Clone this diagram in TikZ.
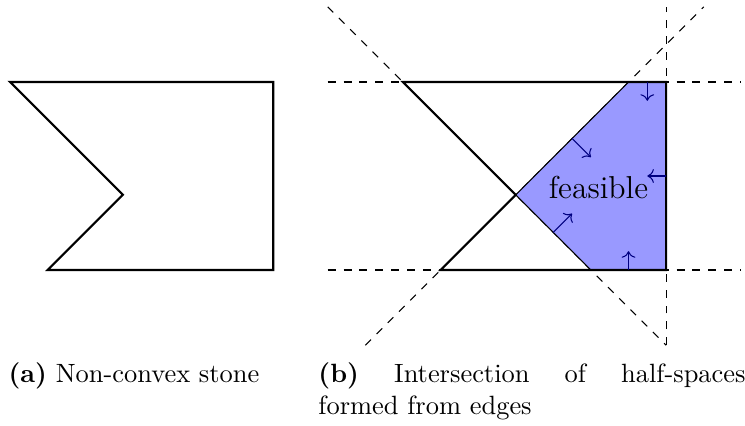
\documentclass[tikz,border=0pt]{standalone}
\usepackage{tikz}
\usetikzlibrary{arrows.meta, positioning, calc}

\begin{document}
\begin{tikzpicture}[
        x=0.5cm, y=0.5cm,
        stone/.style={thick, line join=miter},
        halfspace/.style={dashed},
        region/.style={fill=blue!40, draw=black},
        normal/.style={->, blue!50!black},
        caption/.style={anchor=base west, inner sep=0pt},
    ]
        \useasboundingbox (-0.266,-4.149) rectangle (19.548,7.181);

        % (a) Non-convex stone
        \draw[stone] (0,5) -- (7,5) -- (7,0) -- (1,0) -- (3,2) -- cycle;
        \node[caption] (capA) at (-0.05,-3) {\textbf{(a)} Non-convex stone};

        % (b) Half-spaces
        \begin{scope}[shift={(10.45,0)}]
            % Edge lines
            \draw[halfspace] (-2,5) -- (9,5);
            \draw[halfspace] (-2,0) -- (9,0);
            \draw[halfspace] (7,-2) -- (7,7);
            \draw[halfspace] (-2,7) -- (7,-2);
            \draw[halfspace] (-1,-2) -- (8,7);

            % Feasible region
            \draw[region] (3,2) -- (6,5) -- (7,5) -- (7,0) -- (5,0) -- cycle;
            \draw[stone] (0,5) -- (7,5) -- (7,0) -- (1,0) -- (3,2) -- cycle;
            \node[font=\large] (feas) at (5.2,2.2) {feasible};

            % Normals
            \draw[normal] (6.5,5) -- (6.5,4.5);
            \draw[normal] (7,2.5) -- (6.5,2.5);
            \draw[normal] (6,0) -- (6,0.5);
            \draw[normal] (4.5,3.5) -- (5,3);
            \draw[normal] (4,1) -- (4.5,1.5);

            \node[caption, text width=5.68cm, align=justify] (capB) at (-2.26,-3)
                {\textbf{(b)} Intersection of half-spaces\linebreak formed from edges};
        \end{scope}
\end{tikzpicture}
\end{document}
